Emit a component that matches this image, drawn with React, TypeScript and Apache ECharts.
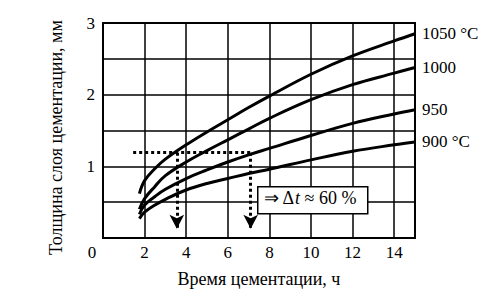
import React, { useEffect, useRef } from "react";
import * as echarts from "echarts";

const hours = [1.75, 2, 2.5, 3, 4, 5, 6, 7, 8, 10, 12, 14, 15];
const depth1050 = [0.62, 0.8, 0.97, 1.1, 1.3, 1.48, 1.65, 1.82, 1.98, 2.285, 2.54, 2.75, 2.85];
const depth1000 = [0.4, 0.55, 0.72, 0.87, 1.06, 1.22, 1.37, 1.52, 1.67, 1.93, 2.14, 2.3, 2.38];
const depth950 = [0.33, 0.46, 0.58, 0.68, 0.83, 0.95, 1.06, 1.16, 1.25, 1.43, 1.6, 1.73, 1.79];
const depth900 = [0.27, 0.36, 0.46, 0.54, 0.67, 0.76, 0.83, 0.9, 0.96, 1.09, 1.21, 1.3, 1.34];
const seriesNames = ["1050 °C", "1000", "950", "900 °C"];
const seriesData = [depth1050, depth1000, depth950, depth900];

const refDepth = 1.19;
const guideStartX = 1.45;
const guideX1 = 3.55;
const guideX2 = 7.1;
const arrowEndY = 0.13;

const FONT = "'Liberation Serif', 'Times New Roman', serif";

export default function App() {
  const ref = useRef<HTMLDivElement>(null);
  useEffect(() => {
    if (!ref.current) return;
    const chart = echarts.init(ref.current, undefined, { renderer: "svg" });
    const curves = seriesData.map((vals, i) => ({
      type: "line",
      name: seriesNames[i],
      data: hours.map((h, j) => [h, vals[j]]),
      smooth: 0.4,
      showSymbol: false,
      lineStyle: { color: "#000", width: 3 },
      endLabel: {
        show: true,
        formatter: "{a}",
        distance: 7,
        color: "#000",
        fontSize: 17,
        fontFamily: FONT,
      },
      z: 3,
    }));
    const dotted = { color: "#000", width: 3, type: [3, 3] as any };
    const guide = {
      type: "line",
      data: [],
      silent: true,
      markLine: {
        silent: true,
        animation: false,
        label: { show: false },
        lineStyle: dotted,
        symbolSize: [11, 14],
        data: [
          [
            { coord: [guideStartX, refDepth], symbol: "none" },
            { coord: [guideX2, refDepth], symbol: "none" },
          ],
          [
            { coord: [guideX1, refDepth], symbol: "none" },
            { coord: [guideX1, arrowEndY], symbol: "arrow" },
          ],
          [
            { coord: [guideX2, refDepth], symbol: "none" },
            { coord: [guideX2, arrowEndY], symbol: "arrow" },
          ],
        ],
      },
      z: 2,
    };
    chart.setOption({
      animation: false,
      backgroundColor: "#fff",
      textStyle: { fontFamily: FONT },
      grid: {
        left: 103,
        right: 85,
        top: 23,
        bottom: 58,
        show: true,
        borderColor: "#000",
        borderWidth: 2,
      },
      xAxis: {
        type: "value",
        min: 0,
        max: 15,
        interval: 2,
        name: "Время цементации, ч",
        nameLocation: "middle",
        nameGap: 32,
        nameTextStyle: { color: "#000", fontSize: 18, fontFamily: FONT },
        axisLine: { lineStyle: { color: "#000", width: 2 } },
        axisTick: { show: false },
        splitLine: { lineStyle: { color: "#000", width: 1.5 } },
        axisLabel: {
          color: "#000",
          fontSize: 17,
          fontFamily: FONT,
          margin: 6,
          showMaxLabel: false,
          formatter: (v: number) => (v === 0 ? "{z|0}" : String(v)),
          rich: { z: { padding: [0, 22, 0, 0], fontSize: 17, fontFamily: FONT, color: "#000" } },
        },
      },
      yAxis: {
        type: "value",
        min: 0,
        max: 3,
        interval: 0.5,
        name: "Толщина слоя цементации, мм",
        nameLocation: "middle",
        nameGap: 38,
        nameTextStyle: { color: "#000", fontSize: 18, fontFamily: FONT, padding: [0, 14, 0, 0] },
        axisLine: { lineStyle: { color: "#000", width: 2 } },
        axisTick: { show: false },
        splitLine: { lineStyle: { color: "#000", width: 1.5 } },
        axisLabel: {
          color: "#000",
          fontSize: 17,
          fontFamily: FONT,
          margin: 8,
          formatter: (v: number) => (v > 0 && Number.isInteger(v) ? String(v) : ""),
        },
      },
      graphic: [
        {
          type: "rect",
          left: 257,
          top: 186,
          z: 100,
          shape: { x: 0, y: 0, width: 110, height: 27 },
          style: { fill: "#ffffff", stroke: "#000", lineWidth: 1.5 },
        },
        {
          type: "text",
          left: 264,
          top: 189,
          z: 101,
          style: {
            text: "{n|⇒ Δ}{i|t}{n| ≈ 60 %}",
            fill: "#000",
            font: "18px " + FONT,
            rich: {
              n: { font: "18px " + FONT, fill: "#000" },
              i: { font: "italic 18px " + FONT, fill: "#000" },
            },
          },
        },
      ],
      series: [...curves, guide],
    });
    return () => chart.dispose();
  }, []);
  return (
    <div
      ref={ref}
      style={{ position: "absolute", left: 0, top: 0, width: 500, height: 296, background: "#fff" }}
    />
  );
}
